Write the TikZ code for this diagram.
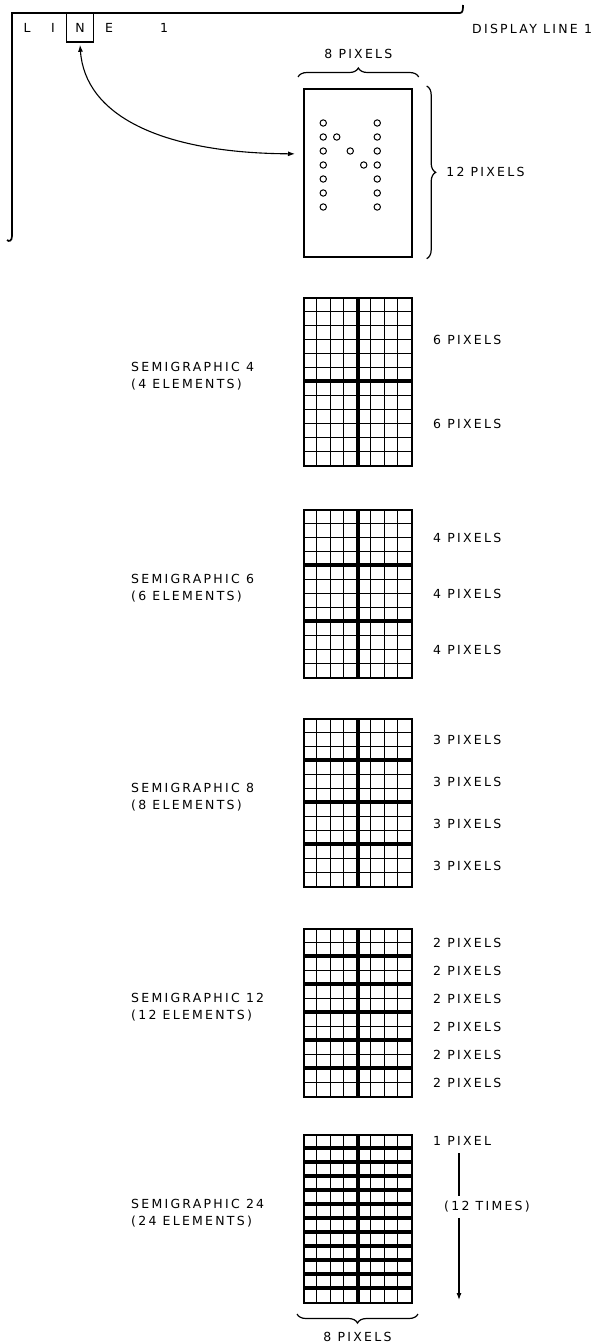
\documentclass[tikz,border=0pt]{standalone}
\usepackage{fontspec}
\setmainfont{DejaVu Sans}[LetterSpace=18]
\usetikzlibrary{positioning, calc, arrows.meta, decorations.pathreplacing}
\tikzset{
	pixelbox/.style={
			draw=black,
			line width=2pt,
			minimum width=108pt,
			minimum height=168pt,
			inner sep=0pt,
			anchor=north west
		},
	charcell/.style={
			draw=black,
			line width=1.5pt,
			minimum width=27pt,
			minimum height=29pt,
			inner sep=0pt,
			font=\fontsize{12.5}{14}\selectfont
		},
	thinline/.style={
			line width=1pt
		},
	thickline/.style={
			line width=3.2pt
		},
	labeltext/.style={
			font=\fontsize{12.5}{17}\selectfont,
			inner sep=1pt
		},
	bracedeco/.style={
			decorate,
			decoration={brace, amplitude=9pt},
			line width=1.2pt
		},
	pointer/.style={
			line width=1.1pt,
			-{Latex[length=7pt, width=5pt]}
		},
	pixeldot/.style={
			line width=1pt
		}
}

\begin{document}
\begin{tikzpicture}[x=1pt, y=-1pt]
	\useasboundingbox (0,0) rectangle (596,1344);

	% display line
	\draw[line width=1.7pt] (7,240) .. controls (9,242) and (12,241) .. (12,236) -- (12,13) -- (460,13)
		.. controls (463,13) and (463,9) .. (463,5);
	\node[labeltext] (chl) at (27,28) {L};
	\node[labeltext] (chi) at (53,28) {I};
	\node[charcell] (chn) at (80,27.5) {N};
	\node[labeltext] (che) at (109,28) {E};
	\node[labeltext] (chone) at (164,28) {1};
	\node[labeltext, anchor=west] (displine) at (471,29) {DISPLAY LINE 1};

	% the character cell
	\node[pixelbox, line width=1.7pt] (charbox) at (303,88) {};
	\foreach \col/\row in {2/3,2/4,2/5,2/6,2/7,2/8,2/9,3/4,4/5,5/6,6/3,6/4,6/5,6/6,6/7,6/8,6/9}
		\draw[pixeldot] ($(charbox.north west)+(\col*13.5-6.75,\row*14-7)$) circle (3.2);

	\draw[line width=1.1pt, {Latex[length=7pt, width=5pt]}-{Latex[length=7pt, width=5pt]}]
		([yshift=-2pt]chn.south) .. controls (85,115) and (160,153) .. ([xshift=-8pt, yshift=19pt]charbox.west);

	\draw[bracedeco] ([xshift=-5pt, yshift=11pt]charbox.north west) -- ([xshift=6pt, yshift=11pt]charbox.north east)
		node[labeltext, midway, above=17pt] (cellwidth) {8 PIXELS};
	\draw[bracedeco] ([xshift=14pt, yshift=2pt]charbox.north east) -- ([xshift=14pt, yshift=-1pt]charbox.south east)
		node[labeltext, midway, right=18pt] (cellheight) {12 PIXELS};

	% semigraphic grids
	\foreach \gname/\gtop/\band/\nbands in {4/297/6/2, 6/509/4/3, 8/718/3/4, 12/928/2/6, 24/1134/1/12} {
		\node[pixelbox] (grid\gname) at (303,\gtop) {};
		\foreach \c in {1,...,7}
			\draw[thinline] ($(grid\gname.north west)+(\c*13.5,0)$) -- ($(grid\gname.south west)+(\c*13.5,0)$);
		\foreach \r in {1,...,11}
			\draw[thinline] ($(grid\gname.north west)+(0,\r*14)$) -- ($(grid\gname.north east)+(0,\r*14)$);
		\draw[thickline] (grid\gname.north) -- (grid\gname.south);
		\pgfmathtruncatemacro\lastband{\nbands-1}
		\foreach \b in {1,...,\lastband}
			\draw[thickline] ($(grid\gname.north west)+(0,\b*\band*14)$) -- ($(grid\gname.north east)+(0,\b*\band*14)$);
		\node[pixelbox, fill=none] at (grid\gname.north west) {};
		\node[labeltext, align=left, anchor=west] (title\gname) at ($(grid\gname.west)+(-173,-6)$)
			{SEMIGRAPHIC \gname\\(\gname{} ELEMENTS)};
		\ifnum\band>1
			\foreach \k in {1,...,\nbands}
				\node[labeltext, anchor=west] (px\gname-\k) at (432,\gtop+\k*\band*14-\band*7+1) {\band{} PIXELS};
		\fi
	}

	% one pixel per element
	\node[labeltext, anchor=west] (onepixel) at (432,1141) {1 PIXEL};
	\node[labeltext, anchor=west, inner ysep=5pt] (twelvetimes) at (443,1207) {(12 TIMES)};
	\coordinate (timestop) at (459,1153);
	\coordinate (timesend) at (459,1300);
	\draw[line width=1.1pt] (timestop) -- (twelvetimes.north -| timestop);
	\draw[pointer] (twelvetimes.south -| timestop) -- (timesend);

	\draw[bracedeco] ([xshift=5pt, yshift=-10pt]grid24.south east) -- ([xshift=-6pt, yshift=-10pt]grid24.south west)
		node[labeltext, midway, below=17pt] (gridwidth) {8 PIXELS};
\end{tikzpicture}
\end{document}
